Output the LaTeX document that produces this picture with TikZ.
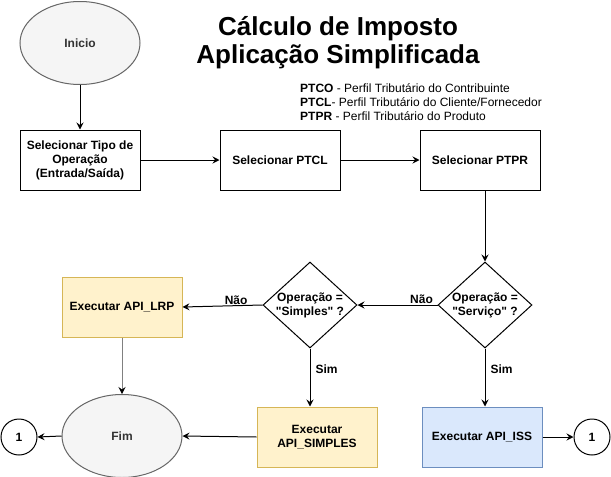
\documentclass[tikz,border=0pt]{standalone}
\usepackage{fontspec}
\setmainfont{Liberation Sans}
\usetikzlibrary{shapes.geometric,arrows.meta}
\definecolor{yfill}{HTML}{FFF2CC}
\definecolor{ydraw}{HTML}{D6B656}
\definecolor{bfill}{HTML}{DAE8FC}
\definecolor{bdraw}{HTML}{6C8EBF}
\definecolor{gfill}{HTML}{F5F5F5}
\definecolor{gdraw}{HTML}{666666}
\definecolor{gtext}{HTML}{333333}
\tikzset{
  nfont/.style={font=\fontsize{12}{14}\selectfont\bfseries},
  box/.style={draw=black, fill=white, minimum width=120pt, minimum height=60pt, inner sep=0pt, align=center, nfont, line width=1pt},
  ybox/.style={box, draw=ydraw, fill=yfill},
  bbox/.style={box, draw=bdraw, fill=bfill},
  term/.style={ellipse, draw=gdraw, fill=gfill, minimum width=120pt, minimum height=83pt, inner sep=0pt, nfont, text=gtext, line width=1pt},
  dec/.style={diamond, draw=black, fill=white, minimum width=94pt, minimum height=86pt, inner sep=0pt, line width=1pt},
  dtext/.style={align=center, nfont},
  conn/.style={circle, draw=black, fill=white, minimum size=36pt, inner sep=0pt, nfont, line width=1pt},
  arr/.style={-{Stealth[length=7pt,width=7pt,inset=2.5pt]}, line width=1pt},
  lbl/.style={nfont, inner sep=1pt},
}
\begin{document}
\begin{tikzpicture}[x=1pt,y=-1pt]
\useasboundingbox (0,0) rectangle (611,477);
\node[term] (ini) at (80,43) {Inicio};
\node[align=center, font=\fontsize{26}{28}\selectfont\bfseries] (title) at (338,43) {Cálculo de Imposto\\Aplicação Simplificada};
\node[anchor=north west, align=left, font=\fontsize{12}{14}\selectfont, inner sep=0pt] (legend) at (300,83)
  {\textbf{PTCO} - Perfil Tributário do Contribuinte\\\textbf{PTCL}- Perfil Tributário do Cliente/Fornecedor\\\textbf{PTPR} - Perfil Tributário do Produto};
\node[box] (b1) at (80,160) {Selecionar Tipo de\\Operação\\(Entrada/Saída)};
\node[box] (b2) at (280,160) {Selecionar PTCL};
\node[box] (b3) at (480,160) {Selecionar PTPR};
\node[dec] (d2) at (485,305) {};
\node[dtext] (d2t) at (d2.center) {Operação =\\\textquotedbl Serviço\textquotedbl\ ?};
\node[dec] (d1) at (310,305) {};
\node[dtext] (d1t) at (d1.center) {Operação =\\\textquotedbl Simples\textquotedbl\ ?};
\node[ybox] (lrp) at (122,307) {Executar API\_LRP};
\node[term] (fim) at (122,436) {Fim};
\node[ybox] (simp) at (317,437) {Executar\\API\_SIMPLES};
\node[bbox] (iss) at (482,437) {Executar API\_ISS};
\node[conn] (c1) at (19,437) {1};
\node[conn] (c2) at (592,437) {1};

\draw[arr] (ini) -- (b1);
\draw[arr] (b1) -- (b2);
\draw[arr] (b2) -- (b3);
\draw[arr] (b3.south -| d2.north) -- (d2.north);
\draw[arr] (d2.west) -- node[lbl, above, pos=0.2] {Não} (d1.east);
\draw[arr] (d1.west) -- node[lbl, above, pos=0.33] {Não} (lrp.east);
\draw[arr] (d1.south) -- node[lbl, right, pos=0.36, xshift=4pt] {Sim} (simp.north -| d1.south);
\draw[arr] (d2.south) -- node[lbl, right, pos=0.36, xshift=4pt] {Sim} (iss.north -| d2.south);
\draw[arr, draw=gray, -{Stealth[length=7pt,width=7pt,inset=2.5pt,black]}] (lrp.south) -- (fim.north);
\draw[arr] (simp.west) -- (fim.east);
\draw[arr] (fim.west) -- (c1.east);
\draw[arr] (iss.east) -- (c2.west);
\end{tikzpicture}
\end{document}
